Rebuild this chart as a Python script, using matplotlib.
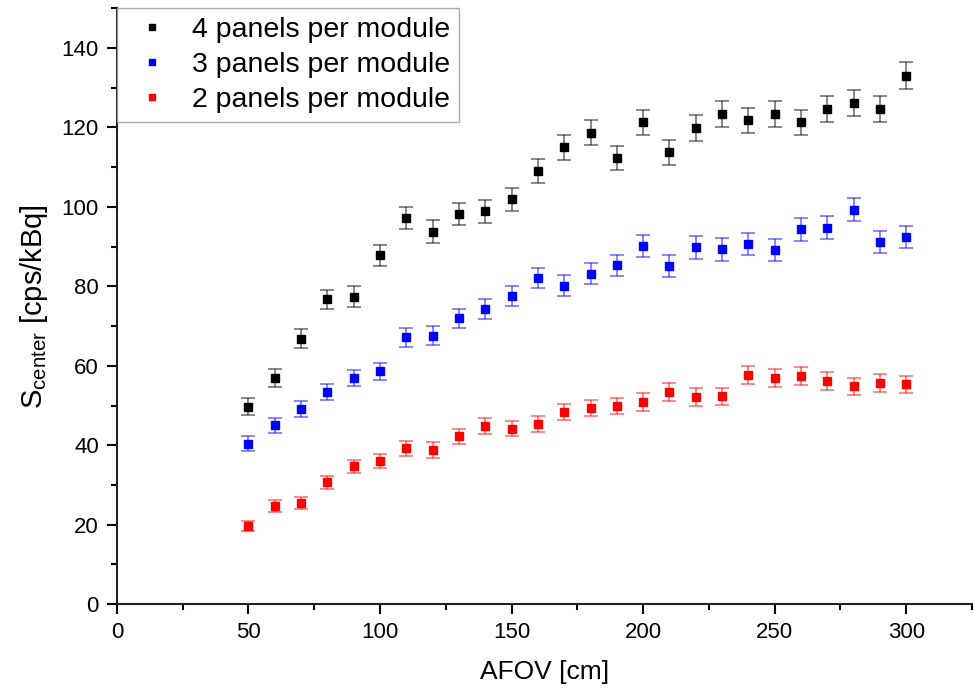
import matplotlib
matplotlib.use("Agg")
import matplotlib.pyplot as plt
from matplotlib.ticker import MultipleLocator
import numpy as np

plt.rcParams['font.family'] = ['Liberation Sans', 'DejaVu Sans']

afov = np.arange(50, 301, 10)

# 4 panels per module
s4 = [49.7, 57.0, 66.8, 76.7, 77.4, 87.8, 97.2, 93.8, 98.2, 98.9, 101.9, 109.0, 115.0,
      118.7, 112.3, 121.3, 113.7, 119.9, 123.4, 121.8, 123.4, 121.3, 124.6, 126.2, 124.7, 133.0]
e4 = [2.1, 2.3, 2.4, 2.5, 2.6, 2.7, 2.8, 2.8, 2.8, 2.9, 2.9, 3.0, 3.1,
      3.1, 3.0, 3.2, 3.1, 3.2, 3.2, 3.2, 3.2, 3.2, 3.2, 3.3, 3.2, 3.4]

# 3 panels per module
s3 = [40.4, 45.0, 49.1, 53.4, 56.9, 58.6, 67.2, 67.6, 72.0, 74.4, 77.6, 82.1, 80.2,
      83.2, 85.3, 90.2, 85.1, 89.8, 89.3, 90.6, 89.1, 94.4, 94.8, 99.3, 91.1, 92.5]
e3 = [1.8, 1.9, 2.0, 2.1, 2.1, 2.2, 2.4, 2.4, 2.4, 2.5, 2.5, 2.6, 2.6,
      2.6, 2.7, 2.8, 2.7, 2.8, 2.8, 2.8, 2.8, 2.9, 2.9, 2.9, 2.8, 2.8]

# 2 panels per module
s2 = [19.6, 24.7, 25.4, 30.7, 34.7, 36.1, 39.2, 38.8, 42.3, 44.8, 44.2, 45.4, 48.4,
      49.4, 49.9, 50.9, 53.4, 52.2, 52.3, 57.6, 56.9, 57.4, 56.1, 54.8, 55.7, 55.3]
e2 = [1.3, 1.5, 1.5, 1.6, 1.7, 1.8, 1.9, 1.9, 1.9, 2.0, 2.0, 2.0, 2.1,
      2.1, 2.1, 2.2, 2.2, 2.2, 2.2, 2.3, 2.3, 2.3, 2.3, 2.2, 2.2, 2.2]

series = [
    (s4, e4, 'black', '4 panels per module'),
    (s3, e3, '#0000ff', '3 panels per module'),
    (s2, e2, '#ff0000', '2 panels per module'),
]

fig = plt.figure(figsize=(9.74, 6.92), dpi=100)
ax = fig.add_axes([0.120, 0.127, 0.878, 0.861])

for vals, errs, col, lab in series:
    ax.errorbar(afov, vals, yerr=errs, fmt='none', ecolor=col, alpha=0.55,
                elinewidth=1.2, capsize=5, capthick=1.2, zorder=2)
    ax.plot(afov, vals, 's', color=col, markersize=6, label=lab, zorder=3)

ax.set_xlim(0, 325)
ax.set_ylim(0, 150)
ax.xaxis.set_major_locator(MultipleLocator(50))
ax.xaxis.set_minor_locator(MultipleLocator(25))
ax.yaxis.set_major_locator(MultipleLocator(20))
ax.yaxis.set_minor_locator(MultipleLocator(10))

for side in ['top', 'right']:
    ax.spines[side].set_visible(False)
for side in ['left', 'bottom']:
    ax.spines[side].set_linewidth(1.5)
    ax.spines[side].set_color('#222222')

ax.tick_params(which='major', direction='out', length=7, width=1.5, labelsize=16, pad=6)
ax.tick_params(which='minor', direction='out', length=4, width=1.5)
ax.set_xticks([0, 50, 100, 150, 200, 250, 300])
ax.set_yticks(range(0, 141, 20))

ax.set_xlabel('AFOV [cm]', fontsize=19, labelpad=12)
ax.set_ylabel(r'S$_{\mathregular{center}}$ [cps/kBq]', fontsize=21, labelpad=8)

leg = ax.legend(loc='upper left', fontsize=20.5, frameon=True, fancybox=False,
                borderaxespad=0, handlelength=1.85, handletextpad=0.5,
                markerscale=0.8, labelspacing=0.32, borderpad=0.3)
leg.get_frame().set_edgecolor('#999999')
leg.get_frame().set_linewidth(1.0)

fig.savefig('out.png', dpi=100)
